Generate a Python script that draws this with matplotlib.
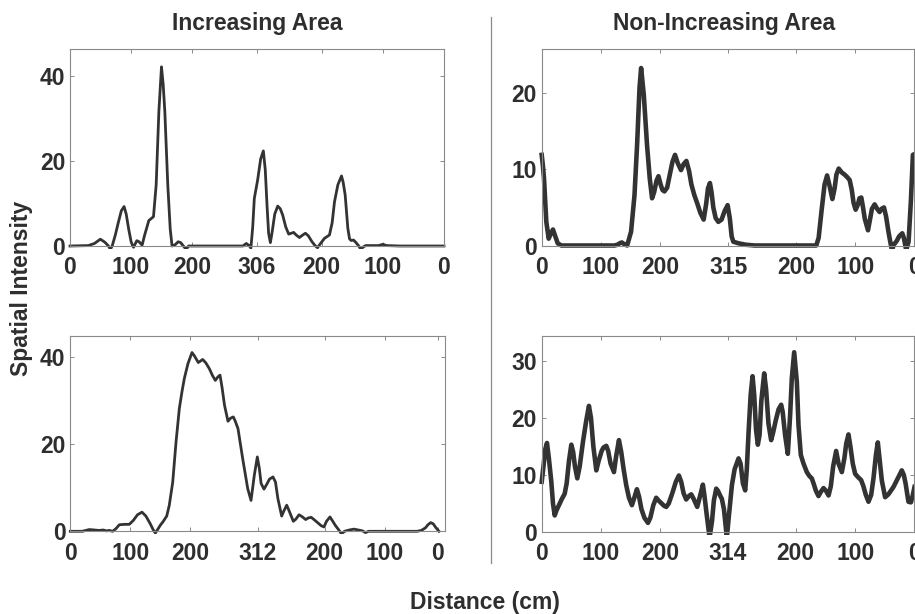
"""Spatial intensity along the track, increasing vs non-increasing area."""

import matplotlib

matplotlib.use("Agg")
import matplotlib.pyplot as plt
from matplotlib.lines import Line2D
from matplotlib.patches import Rectangle

# ---- data (cm along the out-and-back run, intensity) ----
inc_top_x = [0, 30, 40, 49.7, 57, 63, 66, 69, 74, 79, 84, 88.5, 92, 96, 100, 102.7, 104,
             106, 109.3, 113, 118, 122, 129, 136.6, 141, 145.4, 149.7, 152.5, 155.2, 160,
             164, 167, 172, 177, 181, 185, 190, 194, 283, 288.5, 293, 296, 299, 301.6, 307,
             312, 316.4, 319.5, 322.4, 325, 327.9, 331, 335, 339.9, 344, 348, 353, 357.9,
             362, 366, 370, 375.4, 380, 385.2, 390, 396, 401, 405, 410, 416.4, 424.6, 429,
             432.8, 438.3, 444.3, 447, 450.3, 454.6, 457.4, 460, 464, 468, 472, 476, 480,
             484, 505, 512, 518, 540, 612]
inc_top_y = [0, 0.1, 0.6, 1.6, 0.9, 0, -0.8, 0, 2.5, 5.5, 8.3, 9.3, 7.5, 4, 1, 0, -0.3,
             0.3, 1.25, 1.0, 0.2, 2.5, 6.0, 6.9, 14.4, 31.6, 42.2, 38, 31.6, 14.4,
             4, 0, 0.3, 1.0, 0.8, 0.1, -0.8, 0, 0, 0.6, 0.1, -0.5, 4.5, 11.2, 15.5,
             20.5, 22.4, 18, 9.6, 3, 0.8, 3.5, 7.5, 9.4, 8.8, 7.3, 4.5, 2.8,
             3.0, 3.2, 2.6, 2.0, 2.5, 3.0, 2.4, 1.0, 0.1, -0.4, 0.6, 1.8, 2.6, 5.5,
             10.4, 14.4, 16.5, 15, 12, 4.2, 1.7, 1.3, 1.4, 0.8, 0.1, -0.8, -0.2,
             0.1, 0.1, 0.4, 0.1, 0, 0]

inc_bot_x = [0, 20, 31.7, 40, 48, 55, 60, 65, 70.6, 76, 81.7, 90, 98.3, 105, 112, 119.5,
             126, 133, 138, 141.7, 146, 150, 154, 160.7, 165, 170.7, 176.2, 181.7, 186,
             190, 196, 202.8, 207, 213.3, 220.7, 226, 231.7, 237, 241.7, 246, 249.5, 253,
             257, 262.8, 267, 271.7, 275, 279.5, 287.3, 295.7, 301.2, 306.7, 311.7, 315,
             318, 322.8, 327, 332, 337.8, 342, 346, 352.3, 356, 360.7, 365, 371.7, 376,
             381.2, 386, 392.3, 397, 401.7, 407, 413, 418, 422.8, 427, 432.8, 437, 442,
             447, 452, 457, 465, 472.8, 480, 487, 492, 497, 578, 585, 592, 596, 600.7,
             605, 609, 614.5]
inc_bot_y = [0, 0, 0.4, 0.3, 0.2, 0.3, 0.1, 0.2, 0, 0.6, 1.5, 1.6, 1.6, 2.5, 3.8, 4.4,
             3.5, 1.8, 0.4, -0.4, 0.5, 1.4, 2.1, 3.5, 6, 11.3, 20.5, 28.2, 32,
             35.1, 38.5, 41.1, 40.3, 38.8, 39.5, 38.7, 37.4, 35.8, 34.7, 35.5, 35.9, 33,
             29, 25.3, 26, 26.3, 25.3, 23.6, 16.7, 9.8, 7.1, 12.9, 17.1, 14.5,
             11, 9.7, 10.7, 12, 12.5, 11.3, 7.5, 3.5, 4.7, 6.0, 4.6, 2.3, 2.8,
             3.8, 3.4, 2.7, 3.1, 3.2, 2.6, 1.9, 1.3, 1.0, 2.3, 3.3, 2.4, 1.3,
             0.4, -0.6, 0, 0.3, 0.5, 0.3, 0.1, -0.3, 0, 0, 0.2, 0.8, 1.5, 2.0,
             1.7, 0.9, 0]

non_top_x = [0, 2, 3.9, 7.8, 11.8, 15, 19, 23, 27, 33, 123, 128, 132, 135.4, 139, 144.4,
             151, 156.8, 161.2, 165.3, 168, 172.5, 178, 182.6, 186.5, 190, 194, 197.3,
             201, 204, 207.4, 212, 217, 221, 225.3, 230, 235.4, 240, 244.5, 249, 253,
             258, 263, 268, 273.7, 278, 281, 284.3, 287, 290, 294, 298.5, 304, 309,
             314.2, 318, 321, 323.8, 328, 332, 345, 360, 464, 468, 472.7, 478, 482.3,
             486, 491.2, 495, 498, 501.9, 507, 512, 516, 520.4, 524, 527, 530.5, 534,
             537, 540.1, 543, 546, 551.4, 555, 558, 562.6, 567, 571, 574, 578.4, 582,
             586, 589, 591.9, 595, 600, 604, 609.3, 612, 614, 616, 620, 624, 627.3, 630]
non_top_y = [11.9, 10.5, 8.8, 3.1, 0.9, 1.5, 2.1, 1.2, 0.3, 0, 0, 0.1, 0.3, 0.4, 0.2, 0,
             1.8, 6.6, 13.2, 20.7, 23.3, 19.8, 13.2, 8.8, 6.2, 7, 8.5, 9.1,
             8, 7.3, 7.1, 7.6, 9.5, 11, 11.9, 10.8, 9.9, 10.7, 11.1, 9.8, 8,
             6.6, 5.5, 4.3, 3.4, 5.5, 7.5, 8.2, 7, 5, 3.6, 3.1, 3.4, 4.5,
             5.3, 3.5, 1.2, 0.5, 0.4, 0.3, 0.1, 0, 0, 1, 4.4, 8, 9.2,
             8.0, 6.1, 7.5, 9.3, 10.1, 9.6, 9.3, 9.0, 8.6, 7.3, 5.6, 4.7, 5.3,
             6.2, 6.3, 5, 3.5, 2.0, 3.5, 4.8, 5.4, 4.8, 4.4, 4.8, 5.0, 3.8,
             1.8, 0.5, -0.6, 0.1, 0.6, 1.2, 1.6, 1.0, 0.2, -0.6, 0.5, 6, 11.9, 12.0]

non_bot_x = [0, 3, 6, 8.9, 12, 16.2, 19, 21.9, 25, 30.3, 34, 38.7, 42, 46, 49.9, 53, 56,
             60, 64, 69.5, 75, 79.6, 83, 87, 92, 96, 101, 104, 108.8, 112, 116, 121.7,
             125, 130.1, 134, 138, 142.4, 147, 152, 156, 160.4, 164, 168, 173, 179, 183,
             188, 192.9, 197, 202, 206, 209.8, 214, 220, 226, 231.1, 235, 239, 243.4,
             248, 251.9, 256, 262, 266, 271.5, 274, 278, 282.8, 287, 290, 294, 297, 300,
             303.5, 307, 309, 311.9, 315, 320.4, 325, 331.6, 335, 339, 342.8, 345.5,
             348.5, 352, 355.2, 358, 361, 364.1, 367, 370, 374.8, 378, 382, 386.5, 390,
             394.4, 399, 403.4, 406, 410, 414.6, 418.5, 421.3, 425.3, 429.8, 432.6,
             436.5, 441, 446.6, 451, 455, 458, 462, 466.3, 470, 474.7, 479, 483.2, 487,
             491, 496, 500, 505.6, 510, 513, 516.8, 520, 524, 528, 533, 538.1, 542, 546,
             550.5, 555, 559, 563, 566.2, 569, 573, 578.5, 584, 588, 592.6, 597, 602,
             606.6, 610, 613, 617.8, 622, 625, 628]
non_bot_y = [8.8, 11.5, 14.5, 15.6, 13, 8.8, 5, 2.9, 3.8, 5.0, 5.8, 6.7, 8.5, 12.5, 15.3,
             14, 11.5, 9.4, 11.5, 15.8, 19.5, 22.1, 20, 15, 10.8, 12.5, 14.2, 14.8,
             15.1, 14.2, 12, 10.5, 13, 16.1, 14, 11, 8.2, 6, 4.7, 6, 7.5, 6.2, 4,
             2.5, 1.6, 2.5, 4.7, 6.0, 5.5, 5, 4.6, 4.4, 5, 6.8, 8.8, 9.9, 8.8,
             6.8, 5.7, 6.3, 6.6, 5.8, 4.4, 6, 8.3, 6.5, 3, -1, 2, 5.5, 7.6, 7.2,
             6.5, 5.8, 4, 2, -1, 2.5, 8.2, 11, 12.9, 12, 8.5, 7.3, 11, 17.5, 24,
             27.3, 24, 18, 15.3, 17, 23, 27.8, 25, 19, 16.1, 17.5, 19.6, 21.5, 22.3,
             21, 17, 13.7, 20.5, 26.9, 31.5, 26.3, 18.7, 13.5, 12, 10.5, 9.8, 9.4,
             8.5, 7.2, 6.3, 7, 7.7, 7.2, 6.4, 8, 11.5, 14.2, 12, 10.5, 13, 15.5,
             17.1, 15, 12, 10.2, 9.6, 9.1, 8, 6.5, 5.3, 6.5, 9.5, 13.5, 15.7, 13,
             9, 6.1, 6.6, 7.2, 7.9, 8.8, 9.8, 10.8, 10, 8.5, 5.3, 5.2, 6.4, 7.9]

# tick positions along the run and the distance labels shown under them
inc_top_ticks = [0, 100, 200, 306, 412, 512, 612]
inc_top_labels = ["0", "100", "200", "306", "200", "100", "0"]
inc_bot_ticks = [0, 100, 200, 312, 424, 524, 612]
inc_bot_labels = ["0", "100", "200", "312", "200", "100", "0"]
non_top_ticks = [0, 100, 200, 315, 430, 530, 630]
non_top_labels = ["0", "100", "200", "315", "200", "100", "0"]
non_bot_ticks = [0, 100, 200, 314, 428, 528, 628]
non_bot_labels = ["0", "100", "200", "314", "200", "100", "0"]

W, H = 915, 614
LINE_COLOR = "#333333"
FRAME_COLOR = "#8a8a8a"
TEXT_COLOR = "#2e2e2e"

plt.rcParams["font.family"] = ["Liberation Sans", "DejaVu Sans"]
plt.rcParams["font.weight"] = "bold"

fig = plt.figure(figsize=(W / 100, H / 100), dpi=100)
fig.patch.set_facecolor("white")


def add_panel(box, x, y, xmax, ymax, ticks, labels, yticks, lw):
    """box = (left, top, right, bottom) in pixels."""
    left, top, right, bottom = box
    ax = fig.add_axes([left / W, 1 - bottom / H, (right - left) / W, (bottom - top) / H])
    line, = ax.plot(x, y, color=LINE_COLOR, linewidth=lw, solid_joinstyle="round")
    # clip a little outside the frame so a flat line at 0 keeps its full width
    pad_x = 3 / (right - left)
    pad_y = 3 / (bottom - top)
    clip = Rectangle((-pad_x, -pad_y), 1 + 2 * pad_x, 1 + 2 * pad_y, transform=ax.transAxes)
    line.set_clip_path(clip)
    ax.set_xlim(0, xmax)
    ax.set_ylim(0, ymax)
    ax.set_xticks(ticks)
    ax.set_xticklabels(labels)
    ax.set_yticks(yticks)
    ax.tick_params(direction="in", length=3, width=0.7, colors=FRAME_COLOR,
                   top=True, right=True, labelcolor=TEXT_COLOR, labelsize=16.5)
    ax.tick_params(axis="x", pad=7.5)
    ax.tick_params(axis="y", pad=3.5)
    for lab in ax.get_xticklabels() + ax.get_yticklabels():
        lab.set_fontweight("bold")
    for spine in ax.spines.values():
        spine.set_color(FRAME_COLOR)
        spine.set_linewidth(0.8)
    return ax


add_panel((70, 49, 444, 246), inc_top_x, inc_top_y, 612, 46.4,
          inc_top_ticks, inc_top_labels, [0, 20, 40], 2.0)
add_panel((70.3, 336, 444.7, 531.3), inc_bot_x, inc_bot_y, 624, 44.9,
          inc_bot_ticks, inc_bot_labels, [0, 20, 40], 2.0)
add_panel((541.7, 49, 914.5, 245.5), non_top_x, non_top_y, 630, 25.8,
          non_top_ticks, non_top_labels, [0, 10, 20], 3.3)
add_panel((541.7, 335.7, 914.5, 532), non_bot_x, non_bot_y, 628, 34.4,
          non_bot_ticks, non_bot_labels, [0, 10, 20, 30], 3.3)

# column titles, shared labels and the divider
fig.text(257 / W, 1 - 30 / H, "Increasing Area", ha="center", va="baseline",
         fontsize=16.5, fontweight="bold", color=TEXT_COLOR)
fig.text(724 / W, 1 - 30 / H, "Non-Increasing Area", ha="center", va="baseline",
         fontsize=16.5, fontweight="bold", color=TEXT_COLOR)
fig.text(22 / W, 1 - 288 / H, "Spatial Intensity", rotation=90, ha="center", va="center",
         fontsize=16.5, fontweight="bold", color=TEXT_COLOR)
fig.text(485 / W, 1 - 609 / H, "Distance (cm)", ha="center", va="baseline",
         fontsize=16.5, fontweight="bold", color=TEXT_COLOR)
fig.add_artist(Line2D([490.7 / W, 490.7 / W], [1 - 17 / H, 1 - 563 / H],
                      transform=fig.transFigure, color="#8a8a8a", linewidth=0.9))

fig.savefig("out.png", dpi=100, facecolor="white")
plt.close(fig)
